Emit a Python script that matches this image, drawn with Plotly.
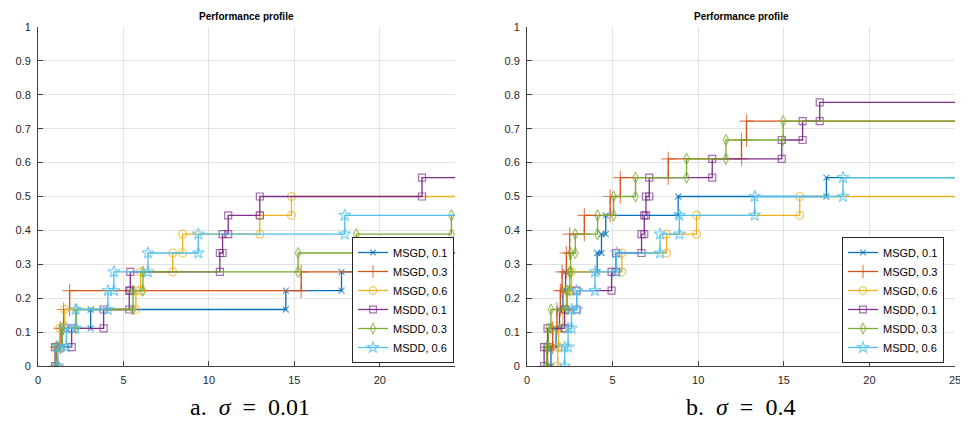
import plotly.graph_objects as go

N_PROBLEMS = 18

series_names = ["MSGD, 0.1", "MSGD, 0.3", "MSGD, 0.6", "MSDD, 0.1", "MSDD, 0.3", "MSDD, 0.6"]

# ratio at which each series gains one more solved problem (step of 1/18)
# panel a: sigma = 0.01
left_msgd_01 = [1.1, 1.4, 3.08, 14.5, 17.76, 20.8]
left_msgd_03 = [1.1, 1.3, 1.5, 1.85, 15.4, 20.5]
left_msgd_06 = [1.15, 1.27, 1.56, 5.73, 6.0, 7.88, 8.46, 12.98, 14.83]
left_msdd_01 = [1.0, 1.97, 3.84, 5.34, 5.4, 10.64, 10.8, 11.13, 12.98, 22.47]
left_msdd_03 = [1.05, 1.4, 2.24, 5.56, 6.14, 15.22, 18.63, 24.19]
left_msdd_06 = [1.17, 1.66, 2.2, 4.09, 4.44, 6.43, 9.38, 17.95]
left_xmax = 24.4

# panel b: sigma = 0.4
right_msgd_01 = [1.4, 1.7, 1.9, 2.1, 2.25, 4.1, 4.35, 4.6, 8.83, 17.49]
right_msgd_03 = [1.2, 1.5, 1.75, 1.95, 2.05, 2.3, 2.49, 3.35, 4.86, 5.45, 8.25, 12.53, 12.82]
right_msgd_06 = [1.8, 1.85, 2.1, 2.3, 2.6, 5.54, 8.15, 9.9, 15.93]
right_msdd_01 = [1.0, 1.2, 2.2, 2.9, 4.94, 5.2, 6.69, 6.85, 6.95, 7.14, 10.82, 14.88, 16.1, 17.1]
right_msdd_03 = [1.15, 1.25, 1.4, 2.35, 2.5, 2.55, 2.82, 4.12, 5.06, 6.34, 9.32, 11.62, 14.96]
right_msdd_06 = [2.2, 2.4, 2.6, 2.9, 3.97, 5.23, 7.77, 8.9, 13.3, 18.46]
right_xmax = 25

x_ticks_left = [0, 5, 10, 15, 20]
x_ticks_right = [0, 5, 10, 15, 20, 25]
y_ticks = [0, 0.1, 0.2, 0.3, 0.4, 0.5, 0.6, 0.7, 0.8, 0.9, 1]
y_tick_labels = ["0", "0.1", "0.2", "0.3", "0.4", "0.5", "0.6", "0.7", "0.8", "0.9", "1"]

panel_titles = ["Performance profile", "Performance profile"]
captions = ["a.&nbsp;&nbsp;<i>σ</i>&nbsp;&nbsp;=&nbsp;&nbsp;0.01", "b.&nbsp;&nbsp;<i>σ</i>&nbsp;&nbsp;=&nbsp;&nbsp;0.4"]

colors = ["#0072BD", "#D95319", "#EDB120", "#7E2F8E", "#77AC30", "#4DBEEE"]
symbols = ["x-thin-open", "cross-thin-open", "circle-open", "square-open", "diamond-tall-open", "star-open"]
msizes = [6, 10, 8, 7, 8, 9]


def stairs(jumps, xmax):
    xs, ys = [jumps[0]], [0.0]
    for k, j in enumerate(jumps):
        if k > 0:
            xs.append(j)
            ys.append(k / N_PROBLEMS)
        xs.append(j)
        ys.append((k + 1) / N_PROBLEMS)
    xs.append(xmax)
    ys.append(len(jumps) / N_PROBLEMS)
    return xs, ys


fig = go.Figure()

panels = [
    ([left_msgd_01, left_msgd_03, left_msgd_06, left_msdd_01, left_msdd_03, left_msdd_06], left_xmax, "x", "y", "legend"),
    ([right_msgd_01, right_msgd_03, right_msgd_06, right_msdd_01, right_msdd_03, right_msdd_06], right_xmax, "x2", "y2", "legend2"),
]

for data, xmax, xa, ya, lg in panels:
    for i, jumps in enumerate(data):
        xs, ys = stairs(jumps, xmax)
        sz = [msizes[i]] * (len(xs) - 1) + [0]
        fig.add_trace(go.Scatter(
            x=xs, y=ys, mode="lines+markers", name=series_names[i],
            xaxis=xa, yaxis=ya, legend=lg,
            line=dict(color=colors[i], width=1.3),
            marker=dict(symbol=symbols[i], size=sz, color=colors[i],
                        line=dict(color=colors[i], width=1.2)),
        ))

# the page body adds an 8px margin, so the figure is drawn 8px smaller
PAGE_OFF = 8
W, H = 968 - PAGE_OFF, 429 - PAGE_OFF
def px_x(p):
    return (p - PAGE_OFF) / W
def px_y(p):
    return (H - (p - PAGE_OFF)) / H

tick_font = dict(family="Liberation Sans, Arial, sans-serif", size=11, color="#262626")
axis_common = dict(
    showgrid=True, gridcolor="#e2e2e2", gridwidth=1,
    showline=True, linecolor="#404040", linewidth=1,
    ticks="inside", ticklen=5, tickcolor="#404040", tickwidth=1,
    tickfont=tick_font, zeroline=False, ticklabeloverflow="allow",
    automargin=False,
)

legend_common = dict(xanchor="left", yanchor="top",
                     bgcolor="white", bordercolor="#262626", borderwidth=1,
                     font=dict(family="Liberation Sans, Arial, sans-serif", size=11, color="#000000"),
                     itemwidth=30, tracegroupgap=0)

fig.update_layout(
    width=W, height=H,
    margin=dict(l=0, r=0, t=0, b=0, autoexpand=False),
    paper_bgcolor="white", plot_bgcolor="white",
    xaxis=dict(domain=[px_x(38), px_x(455)], range=[0, left_xmax], anchor="y",
               tickvals=x_ticks_left, ticklabelstandoff=4, **axis_common),
    yaxis=dict(domain=[px_y(366), px_y(27)], range=[0, 1], anchor="x",
               tickvals=y_ticks, ticktext=y_tick_labels, ticklabelstandoff=4, **axis_common),
    xaxis2=dict(domain=[px_x(527), px_x(955)], range=[0, right_xmax], anchor="y2",
                tickvals=x_ticks_right, ticklabelstandoff=4, **axis_common),
    yaxis2=dict(domain=[px_y(366), px_y(27)], range=[0, 1], anchor="x2",
                tickvals=y_ticks, ticktext=y_tick_labels, ticklabelstandoff=4, **axis_common),
    legend=dict(x=px_x(352), y=px_y(237), **legend_common),
    legend2=dict(x=px_x(842), y=px_y(237), **legend_common),
    showlegend=True,
)

title_x = [(38 + 455) / 2, (527 + 955) / 2]
for tx, t in zip(title_x, panel_titles):
    fig.add_annotation(x=px_x(tx), y=px_y(17), xref="paper", yref="paper",
                       xanchor="center", yanchor="middle",
                       text="<b>" + t + "</b>", showarrow=False,
                       font=dict(family="Liberation Sans, Arial, sans-serif", size=10, color="#000000"))

cap_x = [250, 740]
for cx, c in zip(cap_x, captions):
    fig.add_annotation(x=px_x(cx), y=px_y(407), xref="paper", yref="paper",
                       xanchor="center", yanchor="middle",
                       text=c, showarrow=False,
                       font=dict(family="Liberation Serif, DejaVu Serif, serif", size=24, color="#000000"))

fig.write_html("out.html")
